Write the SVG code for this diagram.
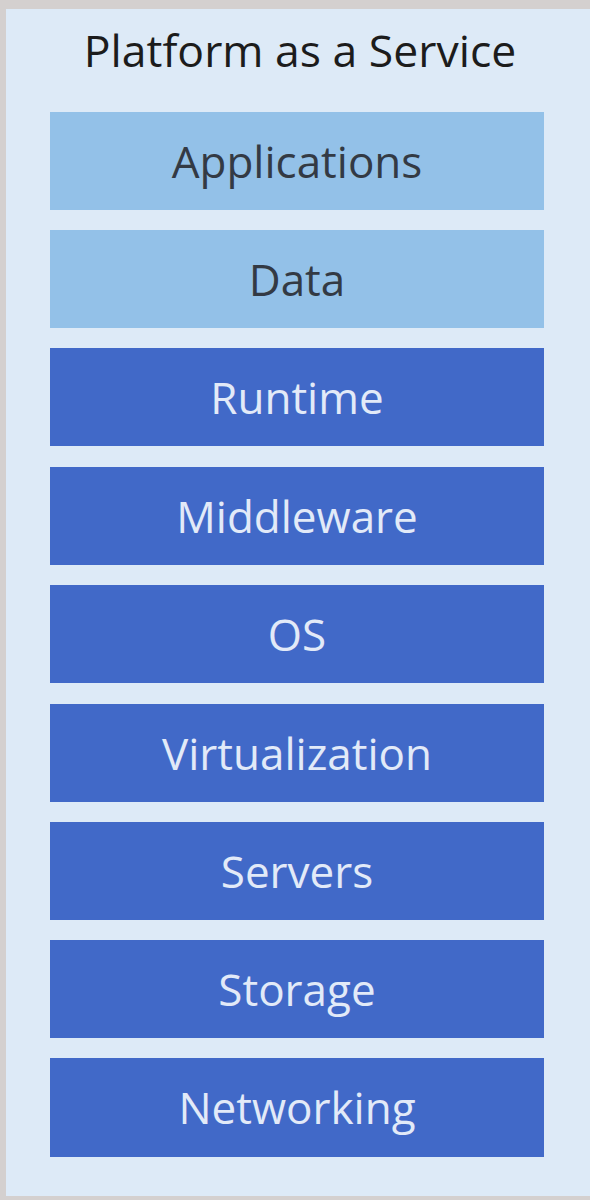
<svg xmlns="http://www.w3.org/2000/svg" width="590" height="1200" viewBox="0 0 590 1200">
<style>
.lt{fill:#93c1e8}
.dk{fill:#4169c8}
.t{font-family:"Open Sans","Noto Sans",sans-serif;font-size:44px;text-anchor:middle;dominant-baseline:central}
.tl{fill:#333a44}
.td{fill:#e2eaf8}
</style>
<rect x="0" y="0" width="590" height="1200" fill="#d4d0cf"/>
<rect x="6" y="9" width="584" height="1187" fill="#ddeaf7"/>
<text x="300" y="49" class="t" style="font-size:44.5px" fill="#1c1c1c">Platform as a Service</text>
<g id="applications"><rect class="lt" x="50" y="112" width="494" height="98"/><text class="t tl" x="297" y="161">Applications</text></g>
<g id="data"><rect class="lt" x="50" y="230" width="494" height="98"/><text class="t tl" x="297" y="279">Data</text></g>
<g id="runtime"><rect class="dk" x="50" y="348" width="494" height="98"/><text class="t td" x="297" y="397">Runtime</text></g>
<g id="middleware"><rect class="dk" x="50" y="467" width="494" height="98"/><text class="t td" x="297" y="516">Middleware</text></g>
<g id="os"><rect class="dk" x="50" y="585" width="494" height="98"/><text class="t td" x="297" y="634">OS</text></g>
<g id="virtualization"><rect class="dk" x="50" y="704" width="494" height="98"/><text class="t td" x="297" y="753">Virtualization</text></g>
<g id="servers"><rect class="dk" x="50" y="822" width="494" height="98"/><text class="t td" x="297" y="871">Servers</text></g>
<g id="storage"><rect class="dk" x="50" y="940" width="494" height="98"/><text class="t td" x="297" y="989">Storage</text></g>
<g id="networking"><rect class="dk" x="50" y="1058" width="494" height="99"/><text class="t td" x="297" y="1107">Networking</text></g>
<g id="connectors"/>
</svg>
